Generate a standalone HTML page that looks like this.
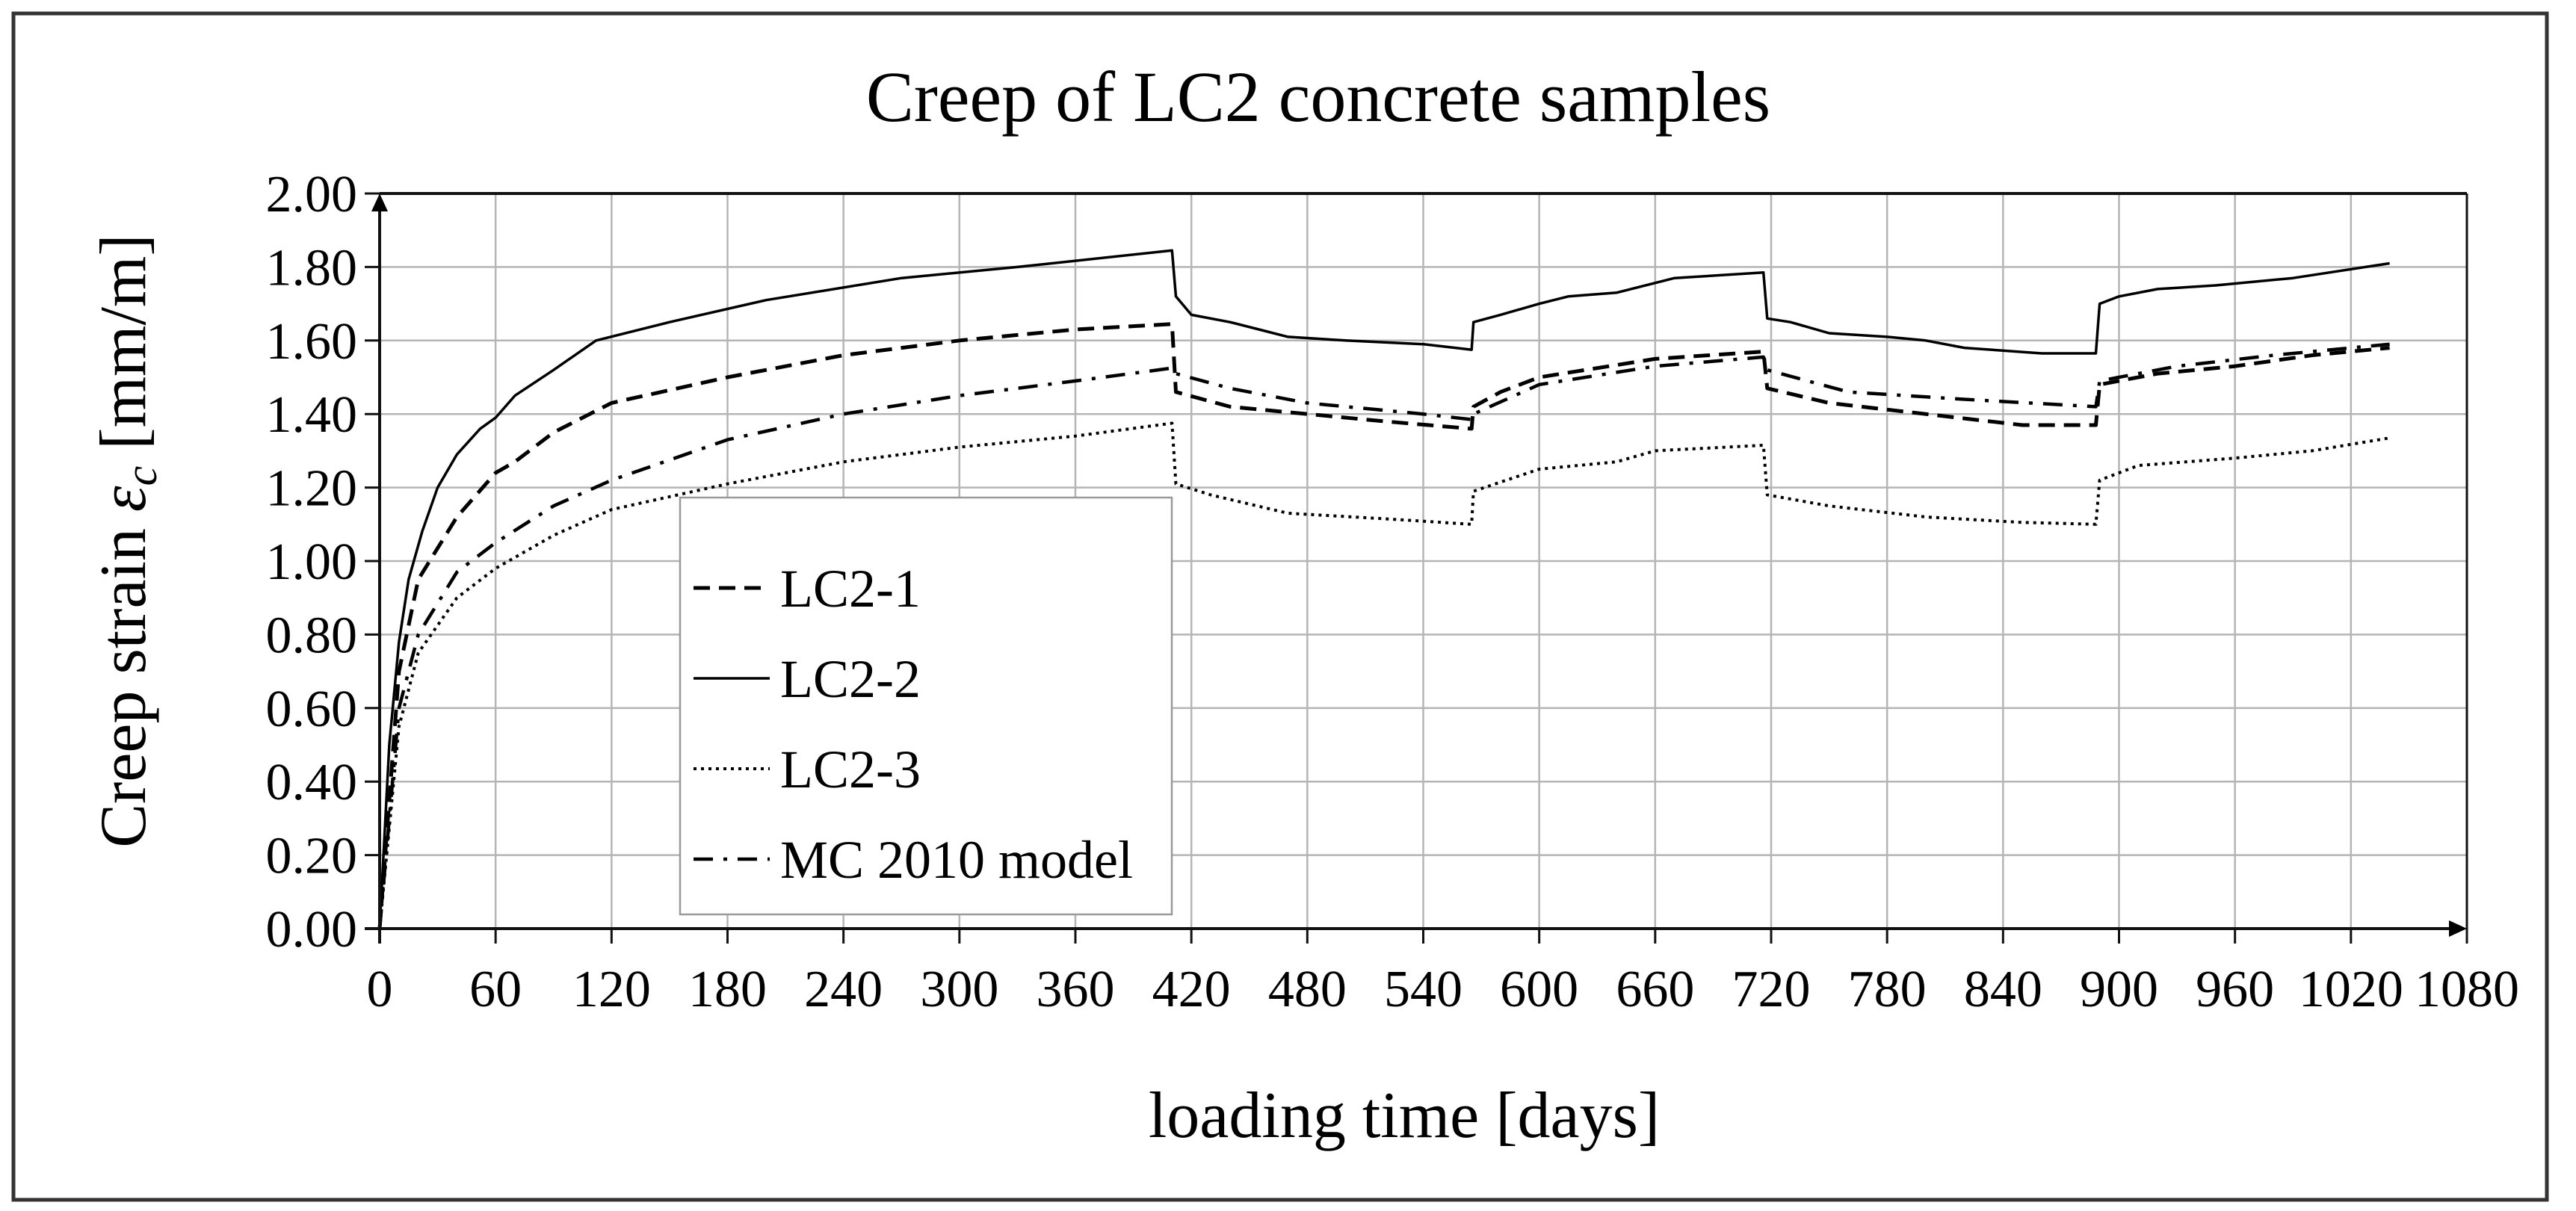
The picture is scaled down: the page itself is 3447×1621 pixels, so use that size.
<!DOCTYPE html>
<html><head><meta charset="utf-8"><style>
body{margin:0;background:#fff}
svg{display:block;font-family:"Liberation Serif",serif}
</style></head><body>
<svg id="chart" width="3447" height="1621" viewBox="0 0 3447 1621">
<rect x="18" y="18" width="3390" height="1588" fill="#fff" stroke="#333" stroke-width="5"/>
<text x="1764" y="162" font-size="96" text-anchor="middle">Creep of LC2 concrete samples</text>
<g id="grid"></g><g id="series"></g><g id="axes"></g>
<text x="1879" y="1522" font-size="88" text-anchor="middle">loading time [days]</text>
<text transform="translate(194,724) rotate(-90)" font-size="88" text-anchor="middle">Creep strain <tspan font-style="italic">ε</tspan><tspan font-style="italic" font-size="60" dy="15">c</tspan><tspan dy="-15"> [mm/m]</tspan></text>
<g id="legend"></g>
</svg>
<script>
const xTicks=[0,60,120,180,240,300,360,420,480,540,600,660,720,780,840,900,960,1020,1080];
const yTicks=[0,0.2,0.4,0.6,0.8,1.0,1.2,1.4,1.6,1.8,2.0];
const seriesNames=["LC2-1","LC2-2","LC2-3","MC 2010 model"];
const lc21T=[0,10,20,40,60,70,90,120,180,240,300,360,410,412,440,480,520,565,566,580,600,660,716,718,750,800,850,888,890,920,960,1000,1040];
const lc21V=[0,0.7,0.95,1.12,1.24,1.27,1.35,1.43,1.50,1.56,1.60,1.63,1.645,1.46,1.42,1.40,1.38,1.36,1.42,1.46,1.50,1.55,1.57,1.47,1.43,1.40,1.37,1.37,1.48,1.51,1.53,1.56,1.58];
const lc22T=[0,5,10,15,22,30,40,52,60,70,90,112,150,200,270,330,410,412,420,440,455,470,500,540,565,566,580,600,615,640,670,716,718,730,750,780,800,820,860,888,890,900,920,950,990,1040];
const lc22V=[0,0.5,0.78,0.95,1.08,1.2,1.29,1.36,1.39,1.45,1.52,1.60,1.65,1.71,1.77,1.80,1.845,1.72,1.67,1.65,1.63,1.61,1.60,1.59,1.575,1.65,1.67,1.70,1.72,1.73,1.77,1.785,1.66,1.65,1.62,1.61,1.60,1.58,1.565,1.565,1.70,1.72,1.74,1.75,1.77,1.81];
const lc23T=[0,10,20,40,60,90,120,180,240,300,360,410,412,430,470,520,565,566,600,640,660,716,718,750,800,850,888,890,910,960,1000,1040];
const lc23V=[0,0.55,0.75,0.90,0.98,1.07,1.14,1.21,1.27,1.31,1.34,1.375,1.21,1.18,1.13,1.115,1.10,1.19,1.25,1.27,1.30,1.315,1.18,1.15,1.12,1.105,1.10,1.22,1.26,1.28,1.30,1.335];
const mcT=[0,10,20,40,60,90,120,180,240,300,360,410,412,440,480,540,565,566,600,660,716,718,760,820,888,890,930,980,1040];
const mcV=[0,0.6,0.8,0.97,1.05,1.15,1.22,1.33,1.40,1.45,1.49,1.525,1.51,1.47,1.43,1.40,1.385,1.40,1.48,1.53,1.555,1.52,1.46,1.44,1.42,1.49,1.53,1.56,1.59];

const NS="http://www.w3.org/2000/svg";
const X0=508,X1=3301,Y0=1243,Y1=259;
const xs=v=>X0+(v-0)/(1080-0)*(X1-X0);
const ys=v=>Y0-(v-0)/(2-0)*(Y0-Y1);
function mk(tag,attrs,parent){const e=document.createElementNS(NS,tag);for(const k in attrs)e.setAttribute(k,attrs[k]);parent.appendChild(e);return e;}
const grid=document.getElementById('grid'),axes=document.getElementById('axes'),ser=document.getElementById('series'),leg=document.getElementById('legend');
xTicks.forEach(t=>{
  if(t>0&&t<1080){const g=mk('line',{x1:xs(t),x2:xs(t),y1:Y1,y2:Y0,stroke:'#b5b5b5','stroke-width':2.5},grid);
  
  }
  const tk=mk('line',{x1:xs(t),x2:xs(t),y1:Y0,y2:Y0+20,stroke:'#111','stroke-width':3},axes);
  
  
  const tx=mk('text',{x:xs(t),y:Y0+104,'font-size':70,'text-anchor':'middle'},axes);tx.textContent=t;
  
  
});
yTicks.forEach(t=>{
  if(t>0){const g=mk('line',{x1:X0,x2:X1,y1:ys(t),y2:ys(t),stroke:t>=2?'#111':'#b5b5b5','stroke-width':t>=2?4:2.5},grid);
  
  }
  const tk=mk('line',{x1:X0-20,x2:X0,y1:ys(t),y2:ys(t),stroke:'#111','stroke-width':3},axes);
  
  
  const tx=mk('text',{x:X0-30,y:ys(t)+24,'font-size':70,'text-anchor':'end'},axes);tx.textContent=t.toFixed(2);
  
  
});
const xa=mk('line',{x1:X0-20,x2:X1-5,y1:Y0,y2:Y0,stroke:'#111','stroke-width':4},axes);


const xar=mk('polygon',{points:`${X1},${Y0} ${X1-24},${Y0-11} ${X1-24},${Y0+11}`,fill:'#000'},axes);


const xe=mk('line',{x1:X1,x2:X1,y1:Y1,y2:Y0+20,stroke:'#111','stroke-width':3},axes);


const ya=mk('line',{x1:X0,x2:X0,y1:Y0+20,y2:Y1+10,stroke:'#111','stroke-width':4},axes);


const yar=mk('polygon',{points:`${X0},${Y1} ${X0-11},${Y1+24} ${X0+11},${Y1+24}`,fill:'#000'},axes);



const styles=[{d:'22,12',w:5,name:'series-lc2-1',T:lc21T,V:lc21V},{d:'',w:3.5,name:'series-lc2-2',T:lc22T,V:lc22V},{d:'4,6',w:4,name:'series-lc2-3',T:lc23T,V:lc23V},{d:'26,14,5,14',w:4.5,name:'series-mc2010',T:mcT,V:mcV}];
styles.forEach(s=>{
  const pts=s.T.map((t,i)=>xs(t).toFixed(1)+','+ys(s.V[i]).toFixed(1)).join(' ');
  const p=mk('polyline',{points:pts,fill:'none',stroke:'#000','stroke-width':s.w,'stroke-dasharray':s.d,'stroke-linejoin':'round'},ser);
  
  
});
const box=mk('rect',{x:910,y:666,width:658,height:558,fill:'#fff',stroke:'#999','stroke-width':2.5},leg);


const ly=[787,908,1029,1150];
seriesNames.forEach((n,i)=>{
  const s=styles[i];
  const l=mk('line',{x1:928,x2:1030,y1:ly[i],y2:ly[i],stroke:'#000','stroke-width':s.w,'stroke-dasharray':s.d},leg);
  
  
  const t=mk('text',{x:1044,y:ly[i]+25,'font-size':72},leg);t.textContent=n;
  
  
});
</script>
</body></html>
